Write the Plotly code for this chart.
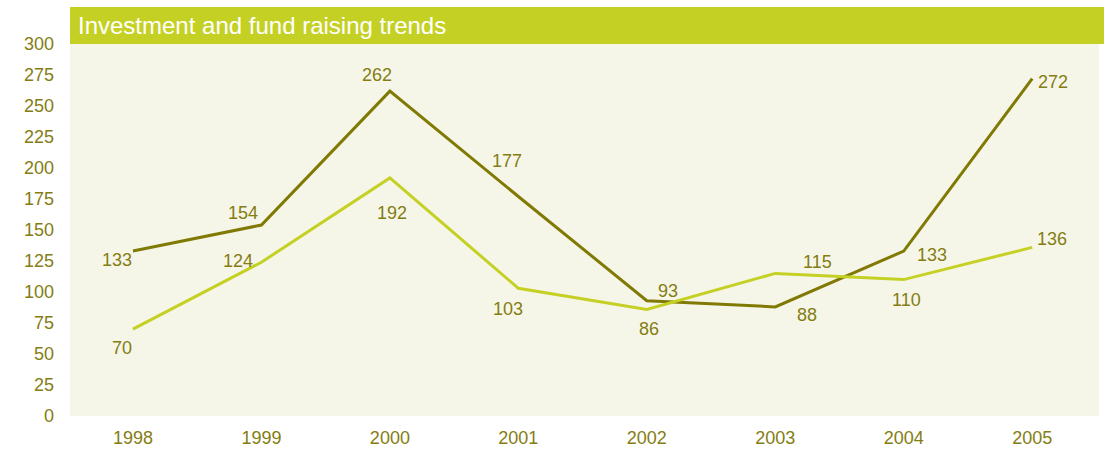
import plotly.graph_objects as go

# Data
years = ["1998", "1999", "2000", "2001", "2002", "2003", "2004", "2005"]
investment = [133, 154, 262, 177, 93, 88, 133, 272]
fund_raising = [70, 124, 192, 103, 86, 115, 110, 136]
y_ticks = [0, 25, 50, 75, 100, 125, 150, 175, 200, 225, 250, 275, 300]

TITLE = "Investment and fund raising trends"

DARK = "#807a05"
LIGHT = "#c4d124"
TEXT = "#847d12"
BG = "#f6f6e8"
FONT = "Liberation Sans, Arial, Helvetica, sans-serif"

# Label offsets (pixels, x right / y up) relative to each point
inv_offsets = [(-16, -9), (-18, 12), (-13, 16), (-11, 36), (21, 10), (32, -8), (28, -4), (21, -3)]
fr_offsets = [(-11, -19), (-23, 1), (2, -35), (-10, -21), (2, -20), (42, 11), (3, -20), (20, 8)]

fig = go.Figure()
fig.add_trace(go.Scatter(x=years, y=investment, mode="lines",
                         line=dict(color=DARK, width=3), hoverinfo="x+y"))
fig.add_trace(go.Scatter(x=years, y=fund_raising, mode="lines",
                         line=dict(color=LIGHT, width=3), hoverinfo="x+y"))

annotations = []
for series, offsets in ((investment, inv_offsets), (fund_raising, fr_offsets)):
    for i, (val, (dx, dy)) in enumerate(zip(series, offsets)):
        # category axis: position by category index
        annotations.append(dict(
            x=i, y=val, text=str(val), showarrow=False,
            xshift=dx, yshift=dy,
            font=dict(family=FONT, size=18, color=TEXT),
        ))

# Title banner above the plot area
plot_h = 451 - 44 - 35
annotations.append(dict(
    xref="paper", yref="paper", x=0, y=1 + 18.5 / plot_h,
    xanchor="left", yanchor="middle", xshift=6,
    text=TITLE, showarrow=False,
    font=dict(family=FONT, size=24, color="white"),
))

fig.update_layout(
    width=1104, height=451,
    margin=dict(l=70, r=5, t=44, b=35, autoexpand=False),
    paper_bgcolor="white",
    plot_bgcolor=BG,
    showlegend=False,
    annotations=annotations,
    shapes=[dict(
        type="rect", xref="paper", yref="paper",
        x0=0, x1=1 + 5 / 1029, y0=1, y1=1 + 37 / plot_h,
        fillcolor=LIGHT, line=dict(width=0), layer="below",
    )],
    xaxis=dict(
        type="category", range=[-0.49, 7.52], automargin=False,
        showgrid=False, zeroline=False, showline=False,
        ticks="", ticklabelstandoff=9,
        tickfont=dict(family=FONT, size=18, color=TEXT),
    ),
    yaxis=dict(
        range=[0, 300], tickvals=y_ticks, automargin=False,
        showgrid=False, zeroline=False, showline=False,
        ticks="", ticklabelstandoff=15,
        tickfont=dict(family=FONT, size=18, color=TEXT),
    ),
)

fig.write_html("out.html")
